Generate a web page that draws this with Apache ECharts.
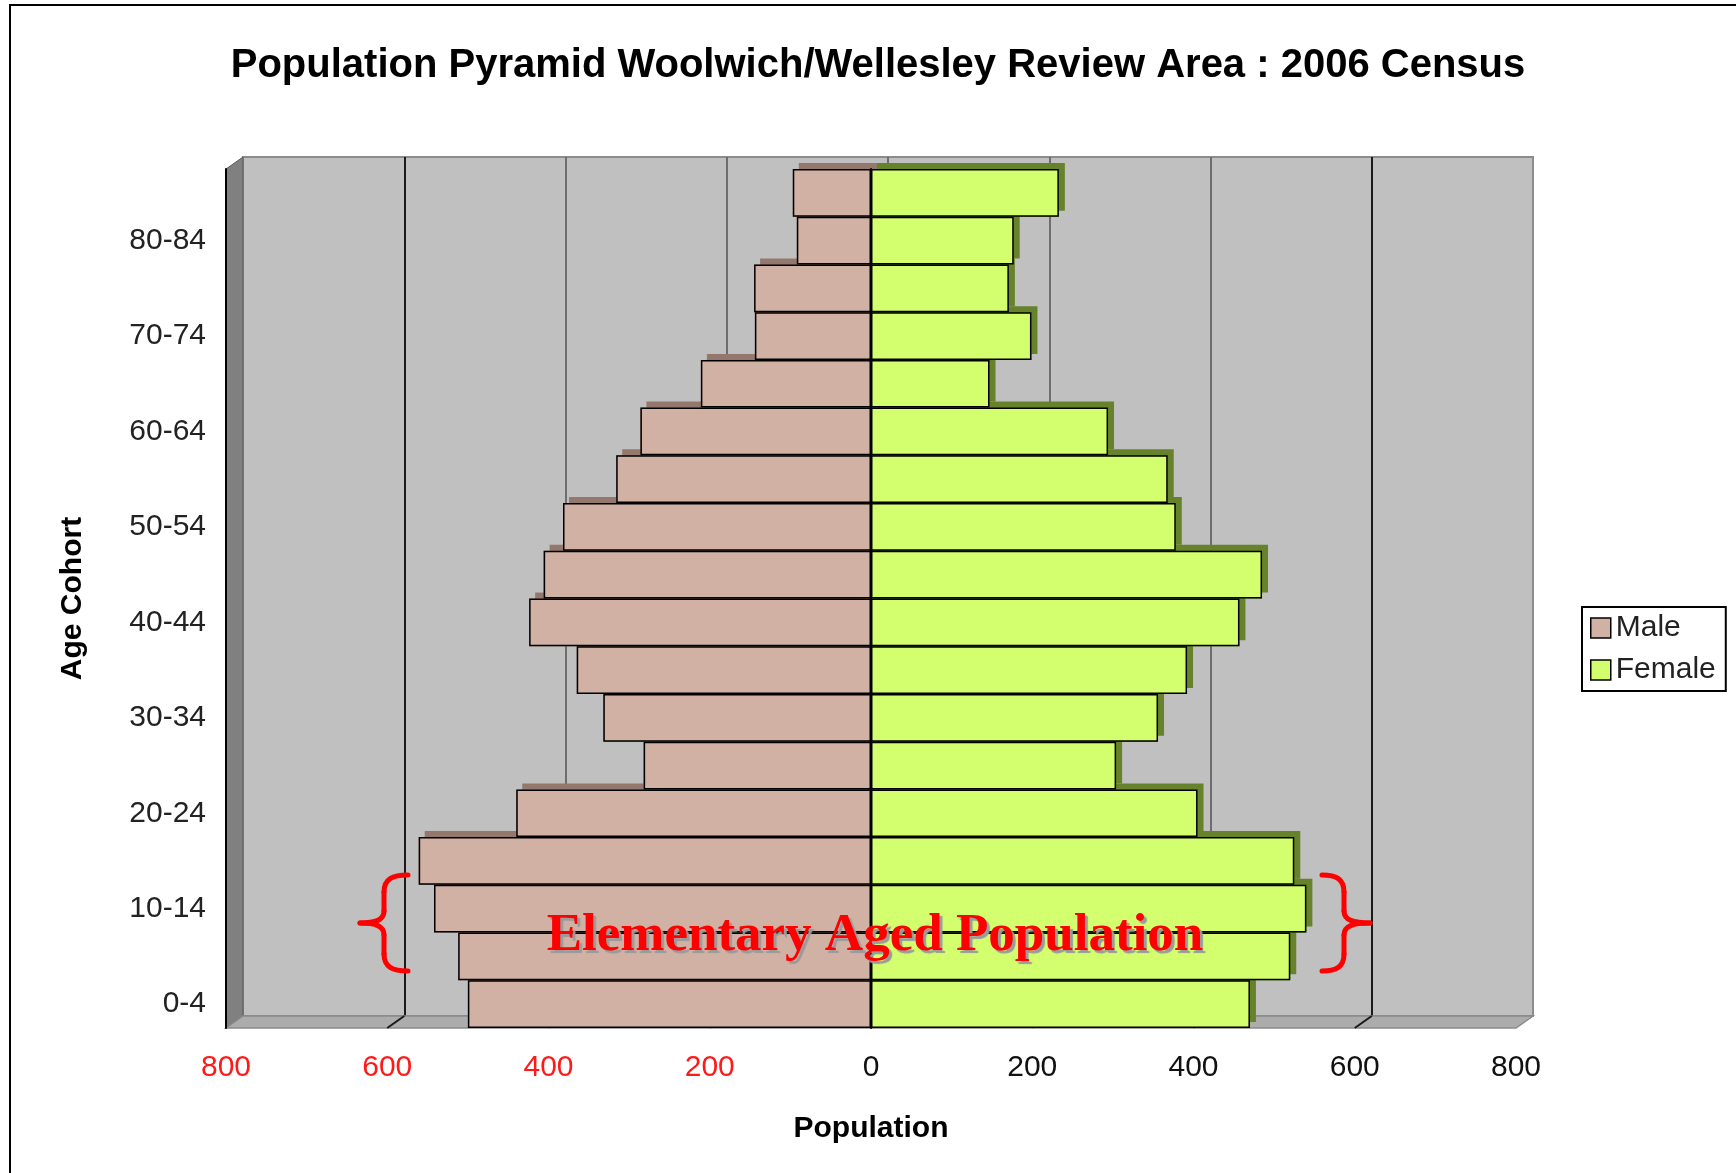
<!DOCTYPE html>
<html>
<head>
<meta charset="utf-8">
<script src="https://cdn.jsdelivr.net/npm/echarts@6/dist/echarts.min.js"></script>
<style>
  html, body { margin: 0; padding: 0; background: #fff; }
  #main { width: 1736px; height: 1173px; }
</style>
</head>
<body>
<div id="main"></div>
<script>
// age cohorts, bottom to top
var ageGroups = ['0-4', '5-9', '10-14', '15-19', '20-24', '25-29', '30-34', '35-39', '40-44',
  '45-49', '50-54', '55-59', '60-64', '65-69', '70-74', '75-79', '80-84', '85+'];
var maleValues = [500, 512, 542, 561, 440, 282, 332, 365, 424, 406, 382, 316, 286, 211, 144, 145, 92, 97];
var femaleValues = [470, 520, 540, 525, 405, 304, 356, 392, 457, 485, 378, 368, 294, 147, 199, 171, 177, 233];
var xTicks = [-800, -600, -400, -200, 0, 200, 400, 600, 800];
// back wall grid line colours, one per tick
var wallLineColors = ['#8c8c8c', '#1a1a1a', '#6e6e6e', '#6e6e6e', '#6e6e6e', '#6e6e6e', '#6e6e6e', '#1a1a1a', '#8c8c8c'];

var FONT = 'Liberation Sans, Arial, sans-serif';
var W = 1736, H = 1173;
var front = {left: 226, right: 220, top: 169, bottom: 145};
var depth = {x: 17, y: -12}; // fake 3d offset of the back wall
var MALE = '#d2b1a5', FEMALE = '#d3ff6e';

var chart = echarts.init(document.getElementById('main'));

// bars drawn twice: a shadow copy behind (gives the 3d top/side faces) and the bordered face
function barSeries(name, data, color, depthColor, isDepth) {
  var s = {
    name: name,
    type: 'bar',
    xAxisIndex: 0,
    yAxisIndex: 0,
    barGap: '-100%',
    barCategoryGap: '0%',
    data: data,
    silent: isDepth,
    itemStyle: {color: color, borderColor: '#000', borderWidth: 1.5}
  };
  if (isDepth) {
    s.legendHoverLink = false;
    s.itemStyle = {
      color: depthColor,
      borderWidth: 0,
      shadowColor: depthColor,
      shadowOffsetX: 6,
      shadowOffsetY: -6,
      shadowBlur: 0
    };
  }
  return s;
}

var option = {
  animation: false,
  backgroundColor: '#fff',
  title: [{
    text: 'Population Pyramid Woolwich/Wellesley Review Area : 2006 Census',
    left: 873,
    textAlign: 'center',
    top: 41,
    textStyle: {fontFamily: FONT, fontWeight: 'bold', fontSize: 40, color: '#000'}
  }, {
    text: 'Elementary Aged Population',
    left: 870,
    textAlign: 'center',
    top: 905,
    textStyle: {
      fontFamily: 'Liberation Serif, Times New Roman, serif',
      fontWeight: 'bold',
      fontSize: 53,
      color: '#ff0000',
      textShadowColor: '#9a9a9a',
      textShadowOffsetX: 3,
      textShadowOffsetY: 3,
      textShadowBlur: 1
    }
  }],
  legend: {
    orient: 'vertical',
    left: 1582,
    top: 607,
    padding: [6, 10, 6, 8],
    borderColor: '#000',
    borderWidth: 2,
    backgroundColor: '#fff',
    icon: 'rect',
    itemWidth: 20,
    itemHeight: 20,
    itemGap: 12,
    textStyle: {fontFamily: FONT, fontSize: 30, color: '#222'},
    itemStyle: {borderColor: '#000', borderWidth: 1.5},
    data: [{name: 'Male', itemStyle: {color: MALE}}, {name: 'Female', itemStyle: {color: FEMALE}}]
  },
  grid: [{
    // front plane: bars and axes
    left: front.left, right: front.right, top: front.top, bottom: front.bottom
  }, {
    // back wall
    left: front.left + depth.x,
    right: front.right - depth.x,
    top: front.top + depth.y,
    bottom: front.bottom - depth.y,
    show: true,
    backgroundColor: '#c0c0c0',
    borderColor: '#8c8c8c',
    borderWidth: 2
  }],
  xAxis: [{
    gridIndex: 0,
    type: 'value',
    min: -800,
    max: 800,
    interval: 200,
    z: 4,
    name: 'Population',
    nameLocation: 'middle',
    nameGap: 86,
    nameTextStyle: {fontFamily: FONT, fontWeight: 'bold', fontSize: 30, color: '#000'},
    axisLine: {onZero: false, lineStyle: {color: '#000', width: 2}},
    axisTick: {length: 15, lineStyle: {color: '#000', width: 1.5}},
    axisLabel: {
      fontFamily: FONT,
      fontSize: 30,
      margin: 25,
      formatter: function (v) { return Math.abs(v); },
      color: function (v) { return Number(v) < 0 ? '#ff1a1a' : '#111'; }
    },
    splitLine: {show: false}
  }, {
    gridIndex: 1,
    type: 'value',
    min: -800,
    max: 800,
    interval: 200,
    axisLine: {show: false},
    axisTick: {show: false},
    axisLabel: {show: false},
    splitLine: {show: true, lineStyle: {color: wallLineColors, width: 2}}
  }],
  yAxis: [{
    gridIndex: 0,
    type: 'category',
    data: ageGroups,
    z: 4,
    name: 'Age Cohort',
    nameLocation: 'middle',
    nameRotate: 90,
    nameGap: 138,
    nameTextStyle: {fontFamily: FONT, fontWeight: 'bold', fontSize: 30, color: '#000'},
    axisLine: {onZero: false, lineStyle: {color: '#000', width: 2}},
    axisTick: {length: 15, interval: 0, lineStyle: {color: '#000', width: 1.5}},
    axisLabel: {fontFamily: FONT, fontSize: 30, color: '#222', margin: 20, interval: 1}
  }, {
    // axis line through zero with small ticks
    gridIndex: 0,
    type: 'category',
    data: ageGroups,
    position: 'left',
    z: 4,
    axisLine: {onZero: true, lineStyle: {color: '#000', width: 2}},
    axisTick: {length: 9, interval: 0, lineStyle: {color: '#000', width: 2}},
    axisLabel: {show: false}
  }, {
    gridIndex: 1,
    type: 'category',
    data: ageGroups,
    show: false
  }],
  series: [
    barSeries('Male depth', maleValues.map(function (v) { return -v; }), MALE, '#94786d', true),
    barSeries('Female depth', femaleValues, FEMALE, '#66822a', true),
    barSeries('Male', maleValues.map(function (v) { return -v; }), MALE, null, false),
    barSeries('Female', femaleValues, FEMALE, null, false)
  ]
};

chart.setOption(option);

// curly brace made of bezier pieces; xEnd = hook ends, xStem = vertical stroke, xTip = point
function brace(xEnd, xStem, xTip, yTop, yMid, yBot) {
  var k = xEnd - xStem, t = xStem - xTip;
  var st = {fill: 'none', stroke: '#ff0000', lineWidth: 5, lineCap: 'round'};
  function bez(x1, y1, c1x, c1y, c2x, c2y, x2, y2) {
    return {type: 'bezierCurve', z: 10, silent: true, style: st,
      shape: {x1: x1, y1: y1, cpx1: c1x, cpy1: c1y, cpx2: c2x, cpy2: c2y, x2: x2, y2: y2}};
  }
  function seg(x1, y1, x2, y2) {
    return {type: 'line', z: 10, silent: true, style: st, shape: {x1: x1, y1: y1, x2: x2, y2: y2}};
  }
  return [
    bez(xEnd, yTop, xStem + k * 0.35, yTop, xStem, yTop + 4, xStem, yTop + 17),
    seg(xStem, yTop + 17, xStem, yMid - 12),
    bez(xStem, yMid - 12, xStem, yMid - 3, xStem - t * 0.35, yMid, xTip, yMid),
    bez(xTip, yMid, xStem - t * 0.35, yMid, xStem, yMid + 3, xStem, yMid + 12),
    seg(xStem, yMid + 12, xStem, yBot - 17),
    bez(xStem, yBot - 17, xStem, yBot - 4, xStem + k * 0.35, yBot, xEnd, yBot)
  ];
}

// frame, side wall, floor and braces, placed from the grid geometry
function drawDecor() {
  var L = front.left, R = W - front.right, T = front.top, B = H - front.bottom;
  var dx = depth.x, dy = depth.y;
  var els = [];
  els.push({
    type: 'rect', z: 0, silent: true,
    shape: {x: 10, y: 5, width: 1800, height: 1300},
    style: {fill: 'none', stroke: '#000', lineWidth: 2}
  });
  els.push({
    type: 'polygon', z: 1, silent: true,
    shape: {points: [[L, T], [L + dx, T + dy], [L + dx, B + dy], [L, B]]},
    style: {fill: '#808080', stroke: '#5a5a5a', lineWidth: 1}
  });
  els.push({
    type: 'polygon', z: 1, silent: true,
    shape: {points: [[L, B], [L + dx, B + dy], [R + dx, B + dy], [R, B]]},
    style: {fill: '#acacac', stroke: '#8a8a8a', lineWidth: 1.5}
  });
  xTicks.forEach(function (v, i) {
    if (i === 0 || i === xTicks.length - 1) return;
    var fx = chart.convertToPixel({xAxisIndex: 0}, v);
    els.push({
      type: 'line', z: 1, silent: true,
      shape: {x1: fx, y1: B, x2: fx + dx, y2: B + dy},
      style: {stroke: wallLineColors[i], lineWidth: 2}
    });
  });
  els = els.concat(brace(408, 384, 360, 875, 923, 971));
  els = els.concat(brace(1322, 1344, 1370, 875, 923, 971));
  chart.setOption({graphic: {elements: els}});
}
drawDecor();
</script>
</body>
</html>
